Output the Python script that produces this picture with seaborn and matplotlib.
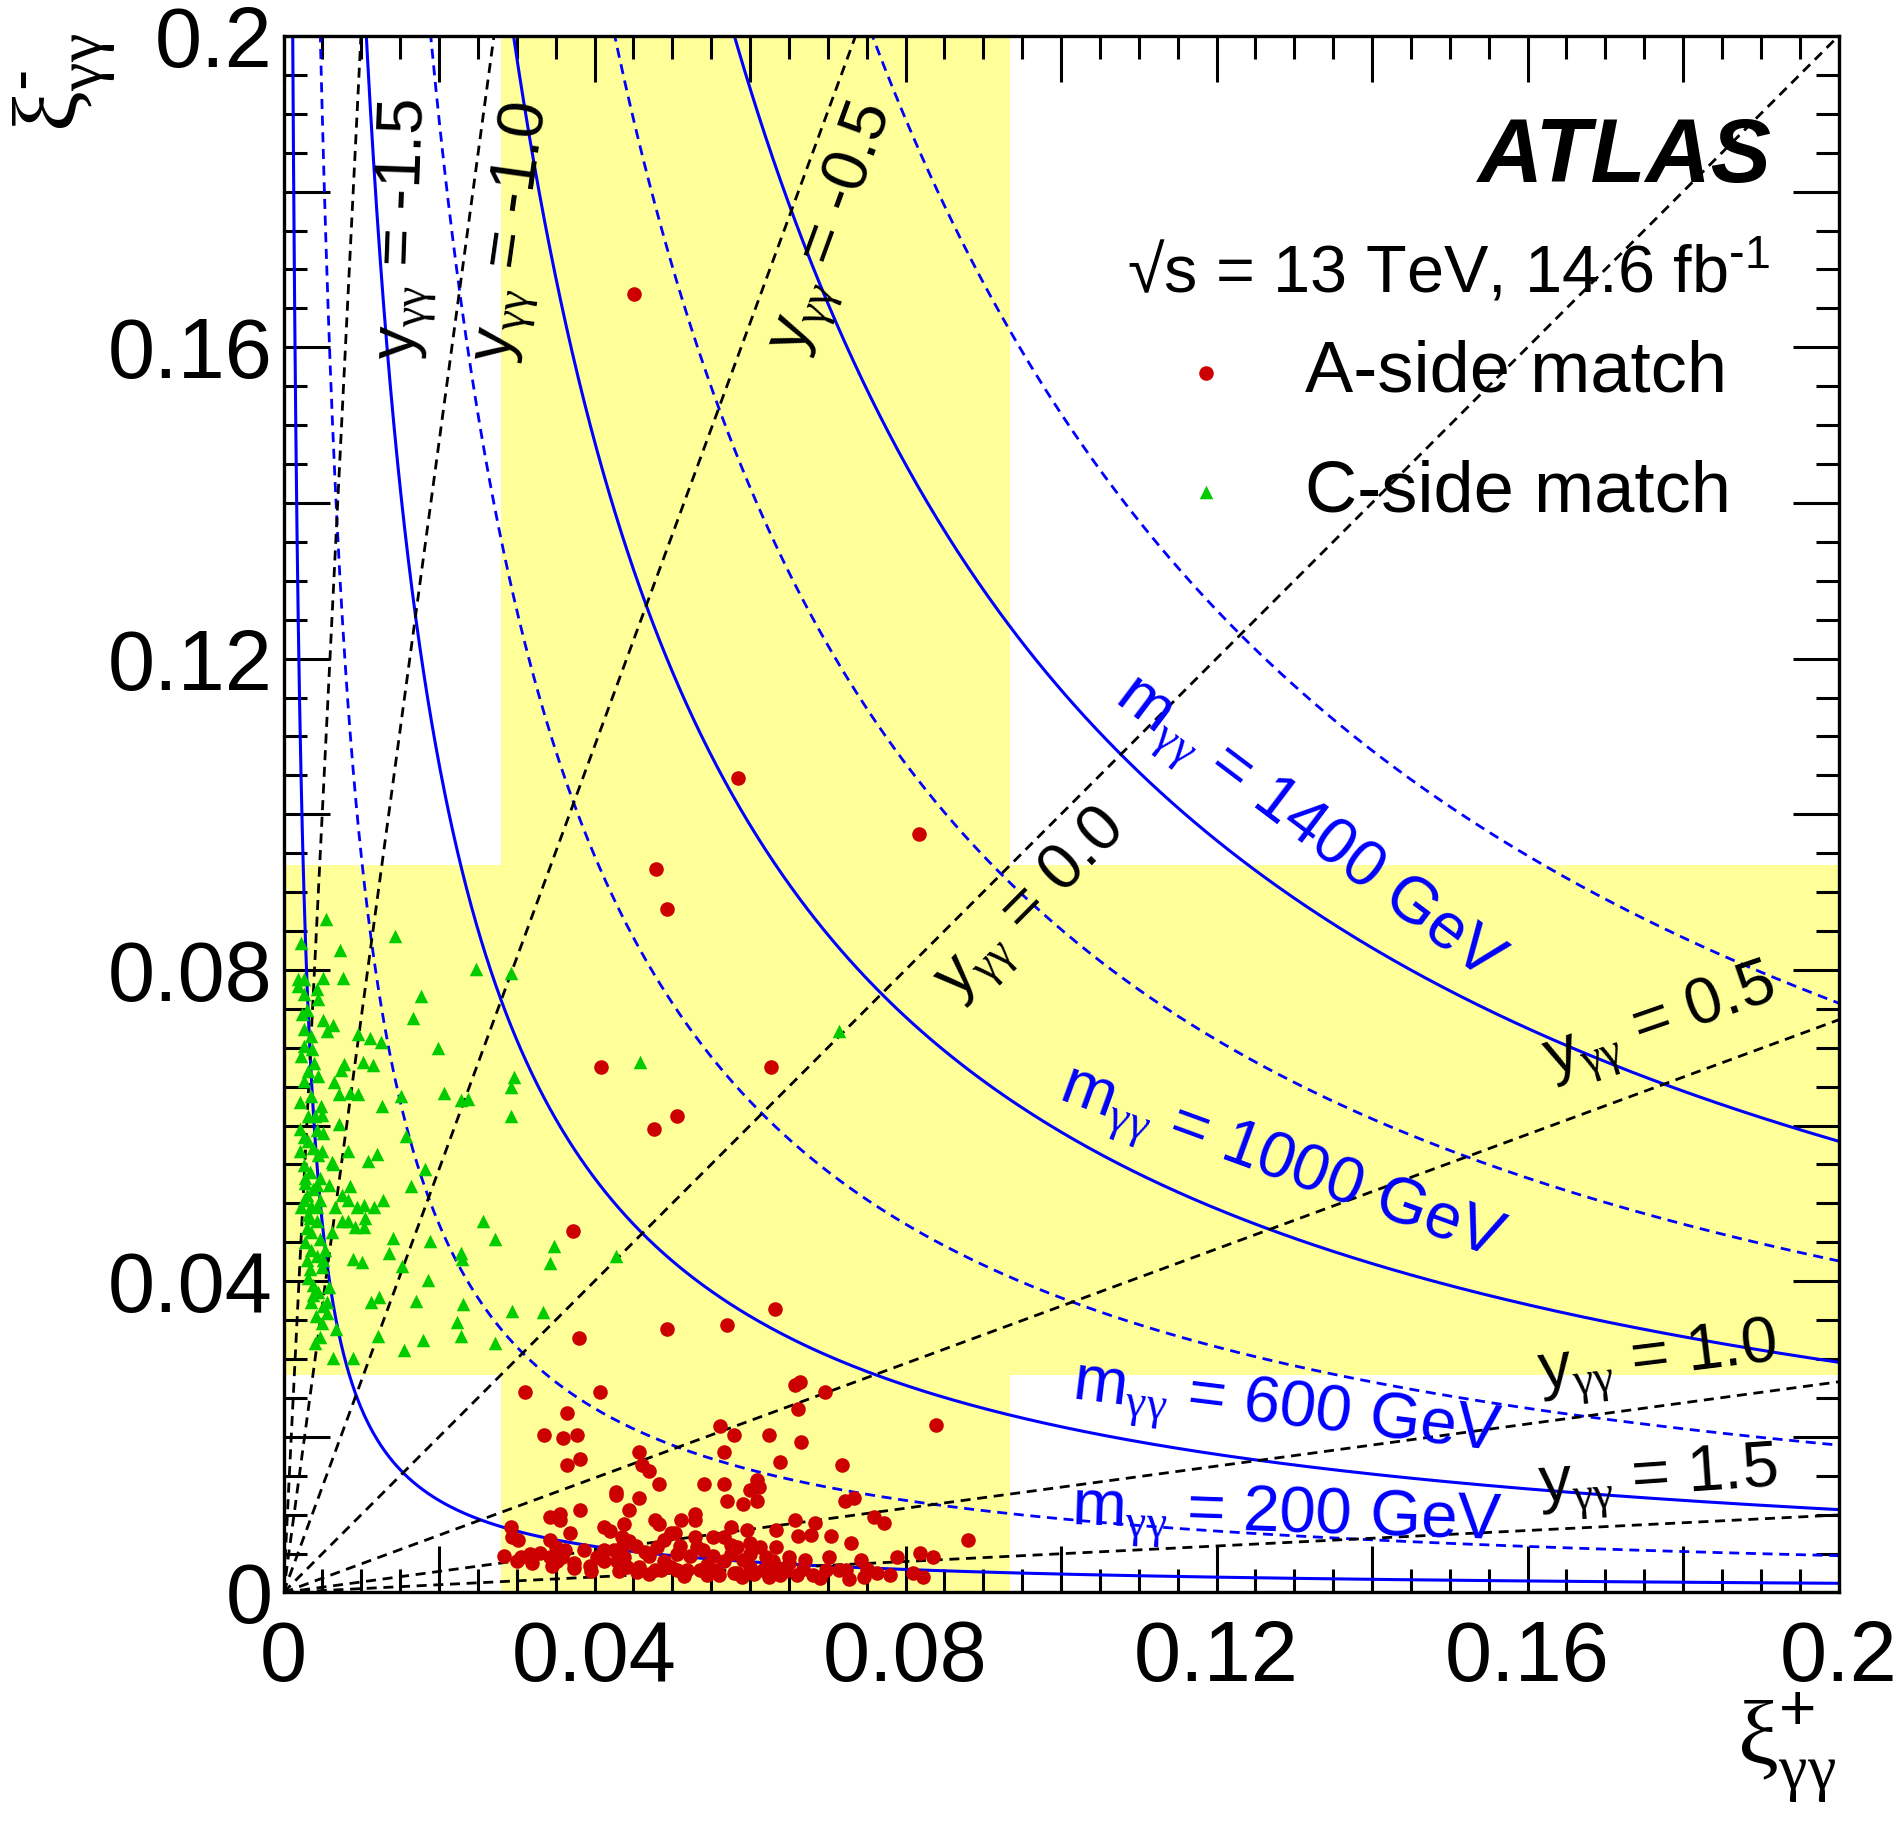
import numpy as np
import matplotlib
matplotlib.use('Agg')
import matplotlib.pyplot as plt
from matplotlib.ticker import FixedLocator, FixedFormatter, MultipleLocator
import seaborn as sns

# style: seaborn ticks, then ROOT/ATLAS-like fonts and pure black text
sns.set_style('ticks')
plt.rcParams['font.family'] = ['Liberation Sans', 'DejaVu Sans']
plt.rcParams['mathtext.fontset'] = 'custom'
plt.rcParams['mathtext.rm'] = 'Liberation Sans'
plt.rcParams['mathtext.it'] = 'Liberation Sans:italic'
plt.rcParams['mathtext.bf'] = 'Liberation Sans:bold'
plt.rcParams['mathtext.sf'] = 'Liberation Serif'
for key in ['text.color', 'axes.labelcolor', 'xtick.color', 'ytick.color',
            'axes.edgecolor']:
    plt.rcParams[key] = 'black'

# ---- data ----
sqrt_s = 13000.0  # GeV
mass_solid = [200, 600, 1000, 1400]
mass_dashed = [400, 800, 1200, 1600]
rapidities = [-1.5, -1.0, -0.5, 0.0, 0.5, 1.0, 1.5]
acceptance = [0.028, 0.0935]

tick_values = [0.0, 0.02, 0.04, 0.06, 0.08, 0.10, 0.12, 0.14, 0.16, 0.18, 0.20]
tick_labels = ['0', '', '0.04', '', '0.08', '', '0.12', '', '0.16', '', '0.2']

# A-side matched events (xi+, xi-)
a_xi_plus = [
    0.0451, 0.0585, 0.0817, 0.0479, 0.0493, 0.0408, 0.0627, 0.0506, 0.0476, 0.0372,
    0.0632, 0.0571, 0.0493, 0.0380,
    0.0310, 0.0407, 0.0365, 0.0335, 0.0360, 0.0377, 0.0365, 0.0381, 0.0457, 0.0461,
    0.0470, 0.0483, 0.0427, 0.0428, 0.0457, 0.0562, 0.0579, 0.0567, 0.0541, 0.0567,
    0.0571, 0.0381, 0.0444, 0.0343, 0.0356, 0.0356, 0.0293, 0.0294, 0.0302, 0.0369,
    0.0343, 0.0350, 0.0362, 0.0412, 0.0420, 0.0438, 0.0435, 0.0435, 0.0453, 0.0478,
    0.0483, 0.0511, 0.0529, 0.0529, 0.0575, 0.0529, 0.0532, 0.0498, 0.0504, 0.0489,
    0.0480, 0.0553, 0.0566, 0.0575, 0.0284, 0.0305, 0.0317, 0.0330, 0.0343, 0.0358,
    0.0373, 0.0386, 0.0394, 0.0412, 0.0412, 0.0425, 0.0438, 0.0442, 0.0457, 0.0470,
    0.0478, 0.0489, 0.0498, 0.0506, 0.0523, 0.0519, 0.0536, 0.0553, 0.0566, 0.0575,
    0.0579, 0.0558, 0.0429, 0.0403, 0.0352, 0.0485, 0.0506, 0.0545,
    0.0658, 0.0664, 0.0697, 0.0662, 0.0625, 0.0666, 0.0839, 0.0638, 0.0718, 0.0609,
    0.0600, 0.0612, 0.0609, 0.0591, 0.0722, 0.0734, 0.0760, 0.0772, 0.0658, 0.0684,
    0.0633, 0.0596, 0.0662, 0.0679, 0.0704, 0.0730, 0.0881, 0.0633, 0.0613, 0.0600,
    0.0583, 0.0701, 0.0743, 0.0789, 0.0818, 0.0835, 0.0671, 0.0650, 0.0634, 0.0617,
    0.0600, 0.0583, 0.0624, 0.0638, 0.0660, 0.0681, 0.0698, 0.0714, 0.0724, 0.0727,
    0.0746, 0.0763, 0.0810, 0.0823, 0.0621, 0.0591,
    0.0560, 0.0590, 0.0605, 0.0645, 0.0668, 0.0690, 0.0545, 0.0515, 0.0470, 0.0455,
    0.0432, 0.0395, 0.0373, 0.0345, 0.0320, 0.0300, 0.0750, 0.0780, 0.0630, 0.0650,
    0.0600, 0.0540, 0.0510, 0.0465, 0.0445,
]
a_xi_minus = [
    0.1668, 0.1046, 0.0974, 0.0929, 0.0878, 0.0675, 0.0675, 0.0612, 0.0596, 0.0465,
    0.0364, 0.0344, 0.0339, 0.0327,
    0.0257, 0.0257, 0.0231, 0.0202, 0.0198, 0.0202, 0.0164, 0.0172, 0.0181, 0.0164,
    0.0156, 0.0139, 0.0129, 0.0125, 0.0122, 0.0214, 0.0202, 0.0181, 0.0139, 0.0139,
    0.0118, 0.0106, 0.0106, 0.0097, 0.0101, 0.0093, 0.0084, 0.0071, 0.0067, 0.0076,
    0.0067, 0.0059, 0.0054, 0.0084, 0.0079, 0.0088, 0.0071, 0.0059, 0.0060, 0.0093,
    0.0088, 0.0093, 0.0101, 0.0093, 0.0084, 0.0071, 0.0059, 0.0076, 0.0076, 0.0067,
    0.0059, 0.0071, 0.0071, 0.0061, 0.0047, 0.0046, 0.0050, 0.0051, 0.0046, 0.0046,
    0.0038, 0.0054, 0.0034, 0.0054, 0.0041, 0.0054, 0.0046, 0.0033, 0.0033, 0.0047,
    0.0029, 0.0041, 0.0033, 0.0050, 0.0047, 0.0029, 0.0029, 0.0047, 0.0041, 0.0050,
    0.0025, 0.0029, 0.0041, 0.0046, 0.0041, 0.0029, 0.0029, 0.0035,
    0.0266, 0.0271, 0.0257, 0.0236, 0.0203, 0.0194, 0.0215, 0.0168, 0.0164, 0.0145,
    0.0132, 0.0135, 0.0118, 0.0114, 0.0118, 0.0122, 0.0097, 0.0089, 0.0093, 0.0089,
    0.0080, 0.0080, 0.0072, 0.0074, 0.0072, 0.0063, 0.0067, 0.0059, 0.0059, 0.0063,
    0.0059, 0.0046, 0.0042, 0.0046, 0.0051, 0.0046, 0.0042, 0.0038, 0.0033, 0.0029,
    0.0033, 0.0025, 0.0020, 0.0022, 0.0022, 0.0022, 0.0029, 0.0029, 0.0029, 0.0017,
    0.0020, 0.0025, 0.0025, 0.0020, 0.0046, 0.0042,
    0.0022, 0.0020, 0.0024, 0.0027, 0.0030, 0.0018, 0.0022, 0.0021, 0.0024, 0.0026,
    0.0028, 0.0027, 0.0031, 0.0034, 0.0038, 0.0040, 0.0030, 0.0022, 0.0040, 0.0045,
    0.0050, 0.0055, 0.0060, 0.0052, 0.0066,
]

# C-side matched events (xi+, xi-)
c_xi_plus = [
    0.0055, 0.0144, 0.0023, 0.0073, 0.0248, 0.0018, 0.0026, 0.0051, 0.0077, 0.0018,
    0.0043, 0.0027, 0.0044, 0.0177, 0.0024, 0.0030, 0.0167, 0.0051, 0.0064, 0.0056,
    0.0026, 0.0035, 0.0096, 0.0111, 0.0126, 0.0199, 0.0026, 0.0037, 0.0022, 0.0039,
    0.0078, 0.0102, 0.0115, 0.0074, 0.0031, 0.0044, 0.0065, 0.0026, 0.0071, 0.0086,
    0.0096, 0.0151, 0.0207, 0.0228, 0.0237, 0.0035, 0.0021, 0.0048, 0.0127, 0.0031,
    0.0041, 0.0050, 0.0071,
    0.0292, 0.0296, 0.0292, 0.0293, 0.0459, 0.0714,
    0.0026, 0.0043, 0.0051, 0.0021, 0.0038, 0.0049, 0.0062, 0.0026, 0.0034, 0.0028,
    0.0043, 0.0058, 0.0030, 0.0036, 0.0023, 0.0043, 0.0066, 0.0034, 0.0030, 0.0047,
    0.0036, 0.0053, 0.0034, 0.0049, 0.0038, 0.0058, 0.0038, 0.0051, 0.0042, 0.0056,
    0.0047, 0.0041, 0.0068, 0.0064, 0.0090,
    0.0021, 0.0032, 0.0045, 0.0028, 0.0047, 0.0038, 0.0026, 0.0047, 0.0032, 0.0043,
    0.0036, 0.0028, 0.0043, 0.0030, 0.0051, 0.0032, 0.0045, 0.0036, 0.0049, 0.0056,
    0.0083, 0.0109, 0.0120, 0.0064, 0.0075, 0.0086, 0.0083, 0.0094, 0.0103, 0.0116,
    0.0128, 0.0075, 0.0083, 0.0092, 0.0105, 0.0103, 0.0062, 0.0141, 0.0189, 0.0256,
    0.0272, 0.0158, 0.0182, 0.0164, 0.0089, 0.0101, 0.0136, 0.0228, 0.0229, 0.0153,
    0.0348, 0.0343, 0.0428, 0.0186, 0.0113, 0.0123, 0.0171, 0.0231, 0.0223, 0.0294,
    0.0334, 0.0122, 0.0180, 0.0228, 0.0272, 0.0155,
]
c_xi_minus = [
    0.0866, 0.0844, 0.0835, 0.0826, 0.0801, 0.0788, 0.0788, 0.0790, 0.0790, 0.0779,
    0.0776, 0.0769, 0.0762, 0.0767, 0.0743, 0.0749, 0.0738, 0.0736, 0.0729, 0.0721,
    0.0724, 0.0715, 0.0718, 0.0713, 0.0707, 0.0699, 0.0702, 0.0698, 0.0689, 0.0681,
    0.0679, 0.0682, 0.0678, 0.0672, 0.0670, 0.0664, 0.0656, 0.0657, 0.0640, 0.0642,
    0.0641, 0.0638, 0.0642, 0.0633, 0.0634, 0.0638, 0.0630, 0.0625, 0.0625, 0.0612,
    0.0612, 0.0614, 0.0602,
    0.0796, 0.0663, 0.0650, 0.0612, 0.0682, 0.0722,
    0.0585, 0.0594, 0.0591, 0.0567, 0.0571, 0.0567, 0.0553, 0.0549, 0.0540, 0.0526,
    0.0524, 0.0524, 0.0511, 0.0497, 0.0495, 0.0495, 0.0495, 0.0481, 0.0468, 0.0454,
    0.0440, 0.0440, 0.0416, 0.0418, 0.0395, 0.0393, 0.0382, 0.0368, 0.0355, 0.0359,
    0.0328, 0.0321, 0.0339, 0.0301, 0.0301,
    0.0596, 0.0580, 0.0562, 0.0533, 0.0533, 0.0519, 0.0504, 0.0504, 0.0485, 0.0477,
    0.0463, 0.0450, 0.0432, 0.0427, 0.0427, 0.0404, 0.0386, 0.0373, 0.0346, 0.0373,
    0.0567, 0.0555, 0.0564, 0.0551, 0.0511, 0.0522, 0.0504, 0.0495, 0.0498, 0.0495,
    0.0504, 0.0477, 0.0477, 0.0470, 0.0481, 0.0470, 0.0463, 0.0456, 0.0452, 0.0477,
    0.0454, 0.0587, 0.0544, 0.0522, 0.0429, 0.0425, 0.0436, 0.0436, 0.0429, 0.0420,
    0.0445, 0.0423, 0.0432, 0.0402, 0.0373, 0.0380, 0.0375, 0.0371, 0.0348, 0.0362,
    0.0360, 0.0330, 0.0325, 0.0330, 0.0321, 0.0312,
]

# ---- figure ----
fig = plt.figure(figsize=(18.97, 18.36), dpi=100)
ax = fig.add_axes([0.14945, 0.13263, 0.81972, 0.84777])

yellow = '#FFFF99'
ax.axvspan(acceptance[0], acceptance[1], color=yellow, lw=0, zorder=0)
ax.axhspan(acceptance[0], acceptance[1], color=yellow, lw=0, zorder=0)

# constant mass hyperbolas: m^2 = s * xi+ * xi-
xi_grid = np.geomspace(1e-4, 0.2, 3000)
for m in mass_solid:
    ax.plot(xi_grid, (m / sqrt_s) ** 2 / xi_grid, color='#0000FF', lw=2.2, zorder=2)
for m in mass_dashed:
    ax.plot(xi_grid, (m / sqrt_s) ** 2 / xi_grid, color='#0000FF', lw=2.0,
            ls=(0, (3.6, 2.4)), zorder=2)

# constant rapidity lines: xi- = xi+ * exp(-2y)
xi_line = np.array([0.0, 0.2])
for y in rapidities:
    ax.plot(xi_line, xi_line * np.exp(-2 * y), color='black', lw=2.0,
            ls=(0, (3.6, 2.4)), zorder=2)

sns.scatterplot(x=a_xi_plus, y=a_xi_minus, ax=ax, color='#CC0000', marker='o',
                s=110, linewidth=0, label='A-side match', zorder=4)
sns.scatterplot(x=c_xi_plus, y=c_xi_minus, ax=ax, color='#00CC00', marker='^',
                s=95, linewidth=0, label='C-side match', zorder=4)

ax.set_xlim(0, 0.2)
ax.set_ylim(0, 0.2)

for axis in (ax.xaxis, ax.yaxis):
    axis.set_major_locator(FixedLocator(tick_values))
    axis.set_major_formatter(FixedFormatter(tick_labels))
    axis.set_minor_locator(MultipleLocator(0.005))

ax.tick_params(which='both', direction='in', top=True, right=True, width=2.2,
               color='black', labelcolor='black')
ax.tick_params(which='major', length=33)
ax.tick_params(which='minor', length=16.5)
ax.tick_params(axis='x', which='major', labelsize=61, pad=19)
ax.tick_params(axis='y', which='major', labelsize=61, pad=8)
for sp in ax.spines.values():
    sp.set_linewidth(2.4)
    sp.set_color('black')
    sp.set_zorder(6)

ax.set_xlabel('')
ax.set_ylabel('')
ax.text(0.9984, -0.1002, r'$\mathsf{ξ}^{+}_{\mathsf{γγ}}$', transform=ax.transAxes,
        ha='right', va='center', fontsize=66)
ax.text(-0.1405, 1.002, r'$\mathsf{ξ}^{\text{-}}_{\mathsf{γγ}}$', transform=ax.transAxes,
        ha='center', va='top', rotation=90, fontsize=66)

# rapidity labels
ysub = r'$\mathrm{y}_{\mathsf{γγ}}$'
rap_labels = [
    (ysub + ' = -1.5', 0.0159, 0.1752, 88),
    (ysub + ' = -1.0', 0.0298, 0.1748, 82),
    (ysub + ' = -0.5', 0.0709, 0.1752, 70),
    (ysub + ' = 0.0', 0.0964, 0.0881, 45),
    (ysub + ' = 0.5', 0.1772, 0.0728, 19),
    (ysub + ' = 1.0', 0.1768, 0.0295, 7),
    (ysub + ' = 1.5', 0.1768, 0.0142, 4),
]
for txt, x, y, rot in rap_labels:
    ax.text(x, y, txt, fontsize=47, color='black', rotation=rot,
            rotation_mode='anchor', ha='center', va='center', zorder=7)

msub = r'$\mathrm{m}_{\mathsf{γγ}}$'
mass_labels = [
    (msub + ' = 1400 GeV', 0.1316, 0.0978, -37),
    (msub + ' = 1000 GeV', 0.1282, 0.0547, -20),
    (msub + ' = 600 GeV', 0.1290, 0.0231, -7),
    (msub + ' = 200 GeV', 0.1290, 0.0094, -2),
]
for txt, x, y, rot in mass_labels:
    ax.text(x, y, txt, fontsize=47, color='#0000FF', rotation=rot,
            rotation_mode='anchor', ha='center', va='center', zorder=7)

ax.text(0.9572, 0.9062, 'ATLAS', transform=ax.transAxes, ha='right', va='baseline',
        fontsize=65, fontweight='bold', fontstyle='italic', color='black', zorder=7)
ax.text(0.9559, 0.8355, r'√s = 13 TeV, 14.6 fb$^{\text{-1}}$',
        transform=ax.transAxes, ha='right', va='baseline', fontsize=48,
        color='black', zorder=7)

leg = ax.legend(loc='upper left', bbox_to_anchor=(0.570, 0.805), frameon=False,
                fontsize=52, handlelength=1.0, handletextpad=0.87, borderpad=0,
                borderaxespad=0, labelspacing=0.73, scatterpoints=1)
leg.set_zorder(8)
for t in leg.get_texts():
    t.set_color('black')

fig.savefig('out.png', dpi=100, facecolor='white')
